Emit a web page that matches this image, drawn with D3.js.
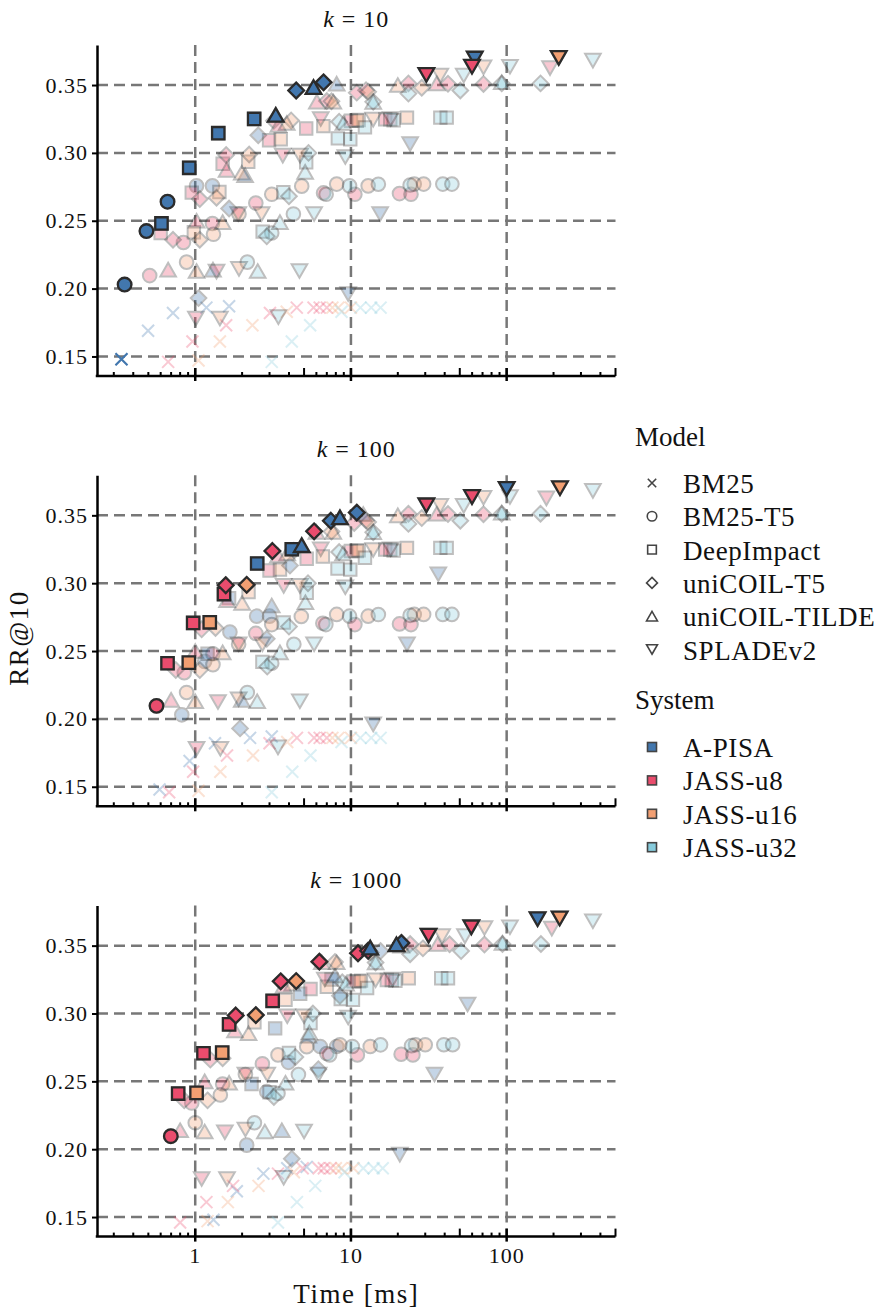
<!DOCTYPE html>
<html>
<head>
<meta charset="utf-8">
<script src="https://cdn.jsdelivr.net/npm/d3@7"></script>
<style>
  body { margin: 0; background: #fff; }
  text { font-family: "Liberation Serif", "Times New Roman", serif; fill: #111; }
</style>
</head>
<body>
<svg id="chart" width="884" height="1312"></svg>
<script>
const models = ['BM25', 'BM25-T5', 'DeepImpact', 'uniCOIL-T5', 'uniCOIL-TILDE', 'SPLADEv2'];
const systems = ['A-PISA', 'JASS-u8', 'JASS-u16', 'JASS-u32'];
const systemColors = ['#4277ae', '#ea4c6d', '#f29f72', '#86cbdc'];
const kValues = [10, 100, 1000];
const xTicks = [1, 10, 100];
const yTicks = [0.15, 0.20, 0.25, 0.30, 0.35];

// rows: [system index, RR@10, time (ms) for k=10, k=100, k=1000]
const bm25Runs = [
  [0, 0.148, 0.336, 0.59, 1.31], [0, 0.169, 0.498, 0.92, 1.85], [0, 0.182, 0.72, 1.34, 2.74],
  [0, 0.186, 1.18, 2.25, 3.9], [0, 0.187, 1.65, 3.1, 5.2],
  [1, 0.146, 0.67, 0.68, 0.80], [1, 0.161, 0.96, 0.97, 1.18], [1, 0.173, 1.58, 1.6, 1.75],
  [1, 0.182, 3.02, 3.0, 3.4], [1, 0.186, 4.49, 4.5, 4.9], [1, 0.186, 5.75, 5.8, 6.2],
  [1, 0.186, 6.3, 6.3, 6.7], [1, 0.186, 7.0, 7.0, 7.4],
  [2, 0.147, 1.05, 1.05, 1.2], [2, 0.161, 1.44, 1.45, 1.62], [2, 0.173, 2.33, 2.35, 2.55],
  [2, 0.183, 3.87, 3.9, 4.3], [2, 0.186, 7.6, 7.6, 8.0], [2, 0.186, 8.3, 8.3, 8.7],
  [2, 0.186, 10.0, 10.0, 10.4],
  [3, 0.146, 3.1, 3.1, 3.4], [3, 0.161, 4.17, 4.2, 4.5], [3, 0.173, 5.47, 5.5, 5.9],
  [3, 0.183, 8.7, 8.7, 9.1], [3, 0.186, 11.5, 11.5, 12.0], [3, 0.186, 13.5, 13.5, 14.0],
  [3, 0.186, 15.5, 15.5, 16.0]
];
const bm25T5Runs = [
  [0, 0.203, 0.352, 0.82, 2.14], [0, 0.2424, 0.486, 1.15, 2.88], [0, 0.264, 0.664, 1.67, 3.97],
  [0, 0.2757, 1.02, 2.48, 6.35], [0, 0.2757, 1.29, 3.0, 8.1],
  [1, 0.2096, 0.51, 0.564, 0.697], [1, 0.234, 0.84, 0.85, 0.95], [1, 0.248, 1.29, 1.3, 1.5],
  [1, 0.263, 2.45, 2.45, 2.7], [1, 0.2705, 6.67, 6.6, 7.0], [1, 0.2695, 10.6, 10.6, 11.0],
  [1, 0.270, 20.5, 20.5, 21], [1, 0.2695, 24.3, 24.3, 25],
  [2, 0.2195, 0.88, 0.88, 1.0], [2, 0.240, 1.31, 1.3, 1.45], [2, 0.255, 1.91, 1.9, 2.1],
  [2, 0.2695, 3.1, 3.1, 3.4], [2, 0.2755, 4.83, 4.8, 5.2], [2, 0.277, 8.1, 8.1, 8.5],
  [2, 0.2757, 12.9, 12.9, 13.3], [2, 0.277, 25.5, 25.5, 26], [2, 0.277, 29.3, 29.3, 30],
  [3, 0.2195, 2.16, 2.16, 2.4], [3, 0.241, 3.1, 3.1, 3.4], [3, 0.255, 4.27, 4.3, 4.6],
  [3, 0.2695, 6.93, 6.9, 7.3], [3, 0.2757, 9.8, 9.8, 10.2], [3, 0.2769, 15.0, 15.0, 15.5],
  [3, 0.2763, 24.0, 24.0, 24.5], [3, 0.277, 38.9, 38.9, 39.5], [3, 0.277, 44.5, 44.5, 45]
];
const deepImpactRuns = [
  [0, 0.248, 0.607, 1.2, 2.3], [0, 0.289, 0.915, 1.65, 3.26], [0, 0.3145, 1.406, 2.5, 4.72],
  [0, 0.325, 2.39, 4.17, 7.5],
  [1, 0.241, 0.60, 0.664, 0.777], [1, 0.2707, 0.95, 0.97, 1.13], [1, 0.292, 1.5, 1.53, 1.65],
  [1, 0.3093, 2.98, 3.0, 3.14], [1, 0.318, 5.16, 5.2, 5.5], [1, 0.3237, 10.0, 10.0, 10.4],
  [1, 0.3247, 16.6, 16.6, 17], [1, 0.3247, 17.9, 17.9, 18.3],
  [2, 0.2415, 0.98, 0.91, 1.02], [2, 0.2712, 1.43, 1.24, 1.49], [2, 0.2935, 2.19, 2.2, 2.4],
  [2, 0.310, 3.54, 3.5, 3.8], [2, 0.3197, 6.65, 6.6, 7.0], [2, 0.3237, 10.9, 10.9, 11.3],
  [2, 0.3242, 11.2, 11.2, 11.6], [2, 0.326, 22.9, 22.9, 23.5],
  [3, 0.242, 2.71, 2.7, 3.0], [3, 0.271, 3.68, 3.7, 4.0], [3, 0.293, 5.16, 5.2, 5.5],
  [3, 0.3107, 8.24, 8.2, 8.6], [3, 0.310, 9.9, 9.9, 10.3], [3, 0.3188, 12.3, 12.3, 12.7],
  [3, 0.324, 18.8, 18.8, 19.3], [3, 0.326, 37.5, 37.5, 38], [3, 0.326, 41.2, 41.2, 42]
];
const uniCoilT5Runs = [
  [0, 0.193, 1.05, 1.94, 4.17], [0, 0.259, 1.65, 2.88, 6.18], [0, 0.313, 2.54, 4.06, 8.5],
  [0, 0.346, 4.45, 7.43, 15.5], [0, 0.352, 6.67, 10.9, 21.1],
  [1, 0.236, 0.72, 0.75, 0.85], [1, 0.266, 1.07, 1.1, 1.25], [1, 0.2985, 1.58, 1.57, 1.82],
  [1, 0.3237, 3.2, 3.13, 3.54], [1, 0.3382, 7.0, 5.8, 6.27], [1, 0.3444, 10.9, 10.5, 11.1],
  [1, 0.3462, 12.5, 12.5, 12.9], [1, 0.3512, 23.4, 23.4, 24], [1, 0.351, 42, 42, 43],
  [1, 0.3508, 71, 71, 72],
  [2, 0.236, 1.07, 1.07, 1.2], [2, 0.267, 1.37, 1.35, 1.5], [2, 0.2988, 2.22, 2.14, 2.45],
  [2, 0.3239, 4.13, 4.3, 4.45], [2, 0.338, 7.5, 7.5, 7.9], [2, 0.345, 12.9, 12.9, 13.4],
  [2, 0.348, 28.5, 28.5, 29],
  [3, 0.2385, 2.88, 2.9, 3.2], [3, 0.268, 4.0, 4.0, 4.4], [3, 0.300, 5.34, 5.3, 5.7],
  [3, 0.323, 8.4, 8.4, 8.8], [3, 0.3376, 13.9, 13.9, 14.4], [3, 0.3437, 23.4, 23.4, 24],
  [3, 0.346, 50.4, 50.4, 51], [3, 0.3512, 93, 93, 94], [3, 0.3512, 165, 165, 166]
];
const uniCoilTildeRuns = [
  [0, 0.214, 1.3, 1.99, 3.6], [0, 0.2836, 2.09, 3.1, 5.33], [0, 0.328, 3.29, 4.83, 7.9],
  [0, 0.3485, 5.75, 8.5, 13.3], [0, 0.351, 8.1, 12.0, 19.6],
  [1, 0.214, 0.67, 0.7, 0.8], [1, 0.250, 1.02, 1.0, 1.15], [1, 0.2875, 1.59, 1.6, 1.8],
  [1, 0.3205, 3.42, 3.4, 3.7], [1, 0.3378, 6.04, 6.0, 6.5], [1, 0.3512, 35.6, 35.6, 36],
  [2, 0.213, 1.02, 1.0, 1.15], [2, 0.249, 1.5, 1.5, 1.65], [2, 0.2854, 1.99, 2.0, 2.2],
  [2, 0.322, 3.87, 3.9, 4.2], [2, 0.3378, 7.7, 7.7, 8.1], [2, 0.350, 20, 20, 21],
  [3, 0.213, 2.52, 2.5, 2.8], [3, 0.249, 3.5, 3.5, 3.8], [3, 0.286, 5.08, 5.1, 5.4],
  [3, 0.322, 8.95, 8.9, 9.3], [3, 0.3376, 13.9, 13.9, 14.4], [3, 0.352, 93, 93, 94]
];
const spladeRuns = [
  [0, 0.196, 9.6, 13.9, 20.6], [0, 0.255, 15.4, 22.9, 34.4], [0, 0.3066, 24, 36.4, 56.1],
  [0, 0.3695, 62.4, 100, 158],
  [1, 0.178, 1.01, 1.02, 1.1], [1, 0.2125, 1.37, 1.4, 1.55], [1, 0.255, 1.89, 1.9, 2.1],
  [1, 0.298, 3.65, 3.7, 3.9], [1, 0.325, 6.4, 6.4, 6.8], [1, 0.3574, 30.5, 30.5, 31.5],
  [1, 0.3635, 59.9, 59.9, 59.3], [1, 0.3625, 190, 180, 195],
  [2, 0.178, 1.44, 1.45, 1.6], [2, 0.2145, 1.91, 1.9, 2.1], [2, 0.255, 2.67, 2.7, 2.9],
  [2, 0.298, 4.71, 4.7, 5.0], [2, 0.3245, 13.9, 13.9, 14.4], [2, 0.357, 37.5, 37.5, 38.5],
  [2, 0.363, 71, 71, 72], [2, 0.370, 216, 220, 219],
  [3, 0.179, 3.42, 3.4, 3.7], [3, 0.213, 4.67, 4.7, 5.0], [3, 0.255, 5.8, 5.8, 6.2],
  [3, 0.297, 9.2, 9.2, 9.6], [3, 0.325, 18, 18, 18.5], [3, 0.357, 53, 53, 54],
  [3, 0.3635, 105, 105, 105], [3, 0.368, 358, 358, 358]
];
const runsByModel = [bm25Runs, bm25T5Runs, deepImpactRuns, uniCoilT5Runs, uniCoilTildeRuns, spladeRuns];

const serif = '"Liberation Serif", "Times New Roman", serif';
var svg = d3.select('#chart');
const plotLeft = 97, plotRight = 615.5, plotH = 331, panelStep = 430.3;

var x = d3.scaleLog().domain([0.234, 500]).range([plotLeft, plotRight]);

// marker outlines, s = scale factor
function markerPath(model, s) {
  var a;
  if (model === 0) { a = 6 * s; return `M${-a},${-a}L${a},${a}M${-a},${a}L${a},${-a}`; }
  if (model === 1) { a = 6.8 * s; return `M${a},0A${a},${a} 0 1,1 ${-a},0A${a},${a} 0 1,1 ${a},0Z`; }
  if (model === 2) { a = 6.2 * s; return `M${-a},${-a}H${a}V${a}H${-a}Z`; }
  if (model === 3) { a = 7.8 * s; return `M0,${-a}L${a},0L0,${a}L${-a},0Z`; }
  if (model === 4) { a = 7.8 * s; var h = 6.8 * s; return `M0,${-h}L${a},${h}L${-a},${h}Z`; }
  a = 7.8 * s; var h2 = 6.8 * s; return `M0,${h2}L${a},${-h2}L${-a},${-h2}Z`;
}

function drawMarker(sel, d, faded) {
  var p = sel.append('path').attr('d', markerPath(d.model, 1));
  if (d.model === 0) {
    p.attr('fill', 'none').attr('stroke', systemColors[d.system]).attr('stroke-width', 2);
  } else {
    p.attr('fill', systemColors[d.system]).attr('stroke', '#2b2b2b').attr('stroke-width', faded ? 2 : 2.3);
  }
  if (faded) p.attr('opacity', 0.3);
}

kValues.forEach(function(k, pi) {
  const top = 45 + pi * panelStep;
  const bottom = top + plotH;
  var y = d3.scaleLinear().domain([0.1356, 0.3795]).range([bottom, top]);
  var g = svg.append('g');

  // dashed grid
  g.append('g').selectAll('line').data(yTicks).enter().append('line')
      .attr('x1', plotLeft).attr('x2', plotRight)
      .attr('y1', d => y(d)).attr('y2', d => y(d))
      .attr('stroke', '#777').attr('stroke-width', 2.5).attr('stroke-dasharray', '11,6');
  g.append('g').selectAll('line').data(xTicks).enter().append('line')
      .attr('x1', d => x(d)).attr('x2', d => x(d))
      .attr('y1', top).attr('y2', bottom)
      .attr('stroke', '#777').attr('stroke-width', 2.5).attr('stroke-dasharray', '11,6');

  // points for this k, pareto front highlighted
  var pts = [];
  runsByModel.forEach(function(runs, mi) {
    runs.forEach(function(r) {
      pts.push({model: mi, system: r[0], rr: r[1], t: r[2 + pi]});
    });
  });
  var best = -1;
  pts.slice().sort((a, b) => a.t - b.t).forEach(function(p) {
    if (p.rr > best) { p.front = true; best = p.rr; }
  });

  var faded = g.append('g');
  pts.forEach(function(d) {
    var m = faded.append('g').attr('transform', `translate(${x(d.t)},${y(d.rr)})`);
    drawMarker(m, d, true);
  });
  var front = g.append('g');
  pts.filter(d => d.front).forEach(function(d) {
    var m = front.append('g').attr('transform', `translate(${x(d.t)},${y(d.rr)})`);
    drawMarker(m, d, false);
  });

  // y axis
  var yAxis = g.append('g')
      .attr('transform', `translate(${plotLeft},0)`)
      .call(d3.axisLeft(y).tickValues(yTicks).tickFormat(d3.format('.2f')).tickSize(5).tickSizeOuter(0).tickPadding(4));
  yAxis.select('.domain').attr('stroke', '#000').attr('stroke-width', 2.5);
  yAxis.selectAll('.tick line').attr('stroke', '#000').attr('stroke-width', 2);
  yAxis.selectAll('.tick text')
      .style('font-size', '22px').style('letter-spacing', '1px');

  // x axis: log minor ticks point up, majors cross the spine
  var minor = x.ticks().filter(v => xTicks.indexOf(v) < 0);
  g.append('g').selectAll('line').data(minor).enter().append('line')
      .attr('x1', d => x(d)).attr('x2', d => x(d))
      .attr('y1', bottom).attr('y2', d => bottom - (String(d).charAt(0) === '5' ? 8 : 4))
      .attr('stroke', '#000').attr('stroke-width', 2);
  g.append('g').selectAll('line').data(xTicks).enter().append('line')
      .attr('x1', d => x(d)).attr('x2', d => x(d))
      .attr('y1', bottom - 8).attr('y2', bottom + 5)
      .attr('stroke', '#000').attr('stroke-width', 2.5);
  g.append('line')
      .attr('x1', plotLeft - 1.25).attr('x2', plotRight)
      .attr('y1', bottom).attr('y2', bottom)
      .attr('stroke', '#000').attr('stroke-width', 2.5);
  if (pi === kValues.length - 1) {
    g.append('g').selectAll('text').data(xTicks).enter().append('text')
        .attr('x', d => x(d)).attr('y', bottom + 26)
        .attr('text-anchor', 'middle').style('font-size', '22px')
        .style('letter-spacing', '1px')
        .text(d => d);
  }

  // panel title
  var title = svg.append('text')
      .attr('x', (plotLeft + plotRight) / 2).attr('y', top - 18)
      .attr('text-anchor', 'middle').style('font-size', '24px')
      .style('letter-spacing', '1px');
  title.append('tspan').style('font-style', 'italic').text('k');
  title.append('tspan').text(' = ' + k);
});

// axis labels
svg.append('text')
    .attr('transform', 'translate(28,638) rotate(-90)')
    .attr('text-anchor', 'middle').style('font-size', '27px')
    .style('letter-spacing', '1.5px')
    .text('RR@10');
svg.append('text')
    .attr('x', (plotLeft + plotRight) / 2).attr('y', 1303)
    .attr('text-anchor', 'middle').style('font-size', '27px')
    .style('letter-spacing', '1.5px')
    .text('Time [ms]');

// legend
var legend = svg.append('g');
legend.append('text').attr('x', 635).attr('y', 446).style('font-size', '27px').text('Model');
var modelItems = legend.selectAll('.modelItem').data(models).enter().append('g')
    .attr('class', 'modelItem')
    .attr('transform', (d, i) => `translate(652, ${483 + i * 33.3})`);
modelItems.append('path')
    .attr('d', (d, i) => markerPath(i, 0.7))
    .attr('fill', (d, i) => i === 0 ? 'none' : '#fff')
    .attr('stroke', '#444').attr('stroke-width', 1.6);
modelItems.append('text').attr('x', 31).attr('y', 10)
    .style('font-size', '27px').style('letter-spacing', '0.6px').text(d => d);

legend.append('text').attr('x', 635).attr('y', 709).style('font-size', '27px').text('System');
var systemItems = legend.selectAll('.systemItem').data(systems).enter().append('g')
    .attr('class', 'systemItem')
    .attr('transform', (d, i) => `translate(652, ${747 + i * 33.4})`);
systemItems.append('rect')
    .attr('x', -4.5).attr('y', -4.5).attr('width', 9).attr('height', 9)
    .attr('fill', (d, i) => systemColors[i])
    .attr('stroke', '#444').attr('stroke-width', 1.6);
systemItems.append('text').attr('x', 31).attr('y', 10)
    .style('font-size', '27px').style('letter-spacing', '0.6px').text(d => d);

svg.selectAll('text').style('font-family', serif).style('fill', '#111');
</script>
</body>
</html>
